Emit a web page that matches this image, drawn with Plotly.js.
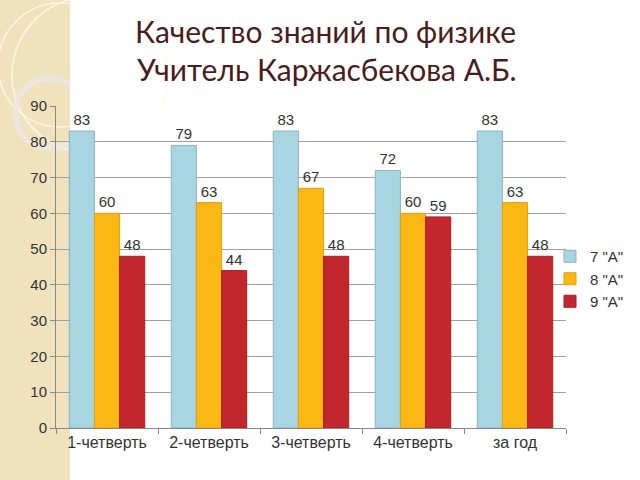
<!DOCTYPE html>
<html><head><meta charset="utf-8">
<script src="https://cdn.plot.ly/plotly-3.0.1.min.js"></script>
<style>html,body{margin:0;padding:0;background:#fff;}#chart{width:640px;height:480px;}</style>
</head><body><div id="chart"></div>
<script>
const categories = ['1-четверть','2-четверть','3-четверть','4-четверть','за год'];
const seriesNames = ['7 "А"','8 "А"','9 "А"'];
const class7 = [83, 79, 83, 72, 83];
const class8 = [60, 63, 67, 60, 63];
const class9 = [48, 44, 48, 59, 48];
const titleLine1 = 'Качество знаний по физике';
const titleLine2 = 'Учитель Каржасбекова А.Б.';
const colors = ['#a7d5e1', '#fbb714', '#c1272d'];
const lineColors = ['#8fb2bc', '#e0a010', '#a82025'];
const values = [class7, class8, class9];

const traces = values.map((v, i) => ({
  type: 'bar', x: categories, y: v, name: seriesNames[i],
  marker: {color: colors[i], line: {color: lineColors[i], width: 1}},
  text: v.map(String), textposition: 'outside', cliponaxis: false,
  textfont: {family: 'Liberation Sans, Arial, sans-serif', size: 15, color: '#333'}
}));

// plot area in pixels: x 56..566, y 106..428
const PX = (p) => (p - 56) / 510;
const PY = (p) => (428 - p) / 322;
const titleFont = {family: 'Lato, sans-serif', size: 30, color: '#4a1c1c'};

const layout = {
  width: 640, height: 480,
  paper_bgcolor: 'rgba(0,0,0,0)', plot_bgcolor: 'rgba(0,0,0,0)',
  margin: {l: 56, r: 74, t: 106, b: 52, autoexpand: false},
  font: {family: 'Liberation Sans, Arial, sans-serif', size: 15, color: '#333'},
  title: {text: titleLine1, font: titleFont,
    xref: 'container', yref: 'container', x: 135 / 640, xanchor: 'left', y: 1 - 32 / 480, yanchor: 'middle'},
  annotations: [
    {text: titleLine2, font: titleFont, xref: 'paper', yref: 'paper', x: PX(135), xanchor: 'left',
      y: PY(69), yanchor: 'middle', showarrow: false}
  ],
  bargap: 0.26, bargroupgap: 0,
  showlegend: true,
  legend: {xref: 'paper', yref: 'paper', x: PX(550), xanchor: 'left', y: PY(279), yanchor: 'middle',
    font: {family: 'Liberation Sans, Arial, sans-serif', size: 15, color: '#333'},
    itemwidth: 30, tracegroupgap: 0, bgcolor: 'rgba(0,0,0,0)'},
  xaxis: {showline: true, linecolor: '#888', linewidth: 1, ticks: 'outside', ticklen: 5,
    tickcolor: '#888', tickson: 'boundaries', showgrid: false, tickfont: {size: 16, color: '#333'}},
  yaxis: {range: [0, 90], dtick: 10, showline: true, linecolor: '#888', linewidth: 1,
    ticks: 'outside', ticklen: 5, tickcolor: '#888', gridcolor: '#a0a0a0', gridwidth: 1,
    zeroline: false, tickfont: {size: 15, color: '#333'}},
  shapes: [
    {type: 'rect', xref: 'paper', yref: 'paper', x0: PX(0), x1: PX(70), y0: PY(480), y1: PY(0),
      fillcolor: '#f1e2be', line: {width: 0}, layer: 'below'},
    {type: 'circle', xref: 'paper', yref: 'paper', x0: PX(12), x1: PX(168), y0: PY(153), y1: PY(-3),
      fillcolor: 'rgba(0,0,0,0)', line: {color: 'rgba(255,250,235,0.8)', width: 1.5}, layer: 'below'},
    {type: 'circle', xref: 'paper', yref: 'paper', x0: PX(-2), x1: PX(122), y0: PY(127), y1: PY(3),
      fillcolor: 'rgba(0,0,0,0)', line: {color: 'rgba(255,250,235,0.8)', width: 1.5}, layer: 'below'},
    {type: 'circle', xref: 'paper', yref: 'paper', x0: PX(15), x1: PX(85), y0: PY(148), y1: PY(78),
      fillcolor: 'rgba(0,0,0,0)', line: {color: 'rgba(235,232,225,0.9)', width: 6}, layer: 'below'},
    {type: 'rect', xref: 'paper', yref: 'paper', x0: PX(70), x1: PX(140), y0: PY(200), y1: PY(-1),
      fillcolor: '#ffffff', line: {width: 0}, layer: 'below'}
  ]
};
Plotly.newPlot('chart', traces, layout, {displayModeBar: false, staticPlot: true});
</script></body></html>
